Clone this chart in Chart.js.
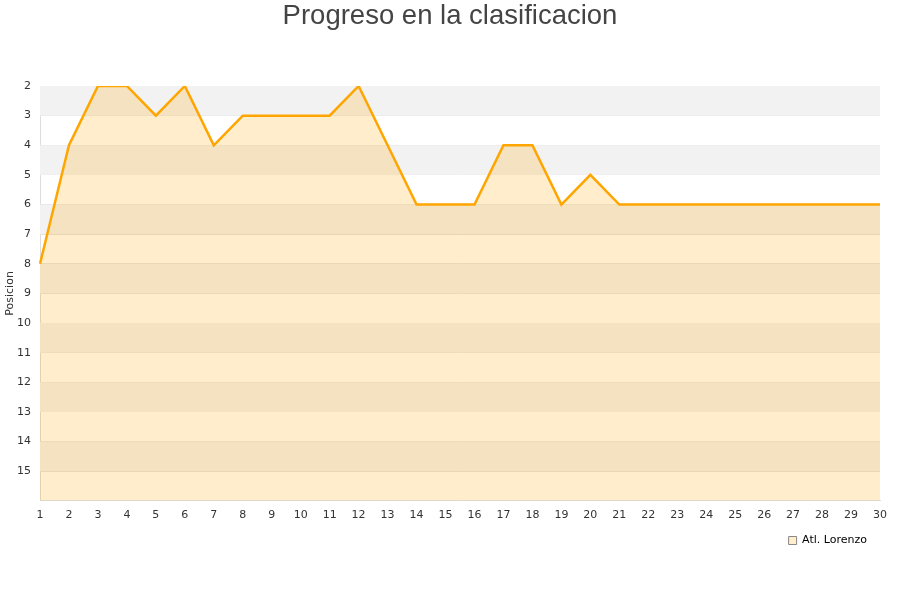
<!DOCTYPE html>
<html>
<head>
<meta charset="utf-8">
<script src="https://cdn.jsdelivr.net/npm/chart.js@4"></script>
<style>
  html, body { margin: 0; padding: 0; background: #fff; }
  #wrap { width: 900px; height: 600px; }
</style>
</head>
<body>
<div id="wrap"><canvas id="chart" width="900" height="600"></canvas></div>
<script>
// chart data
const jornadas = ["1","2","3","4","5","6","7","8","9","10","11","12","13","14","15","16","17","18","19","20","21","22","23","24","25","26","27","28","29","30"];
const posiciones = [8, 4, 2, 2, 3, 2, 4, 3, 3, 3, 3, 2, 4, 6, 6, 6, 4, 4, 6, 5, 6, 6, 6, 6, 6, 6, 6, 6, 6, 6];
const equipo = "Atl. Lorenzo";
const titulo = "Progreso en la clasificacion";
const yMin = 2;
const yMax = 16;

// alternating horizontal bands behind the data
const bandsPlugin = {
  id: "bands",
  beforeDatasetsDraw(chart) {
    const { ctx, chartArea, scales } = chart;
    const y = scales.y;
    ctx.save();
    for (let v = yMin; v < yMax; v++) {
      if ((v - yMin) % 2 !== 0) continue;
      const top = y.getPixelForValue(v);
      const bottom = y.getPixelForValue(v + 1);
      ctx.fillStyle = "#f2f2f2";
      ctx.fillRect(chartArea.left, top, chartArea.right - chartArea.left, bottom - top);
    }
    ctx.restore();
  }
};

// title centred on the whole canvas (built-in title follows layout padding)
const titlePlugin = {
  id: "pageTitle",
  afterDraw(chart) {
    const { ctx } = chart;
    ctx.save();
    ctx.fillStyle = "#444";
    ctx.font = "27.5px 'Liberation Sans', Arial, sans-serif";
    ctx.textAlign = "center";
    ctx.textBaseline = "middle";
    ctx.fillText(titulo, chart.width / 2, 16);
    ctx.restore();
  }
};

new Chart(document.getElementById("chart"), {
  type: "line",
  data: {
    labels: jornadas,
    datasets: [{
      label: equipo,
      data: posiciones,
      borderColor: "#ffa500",
      backgroundColor: "rgba(255,165,0,0.2)",
      borderWidth: 2.5,
      pointRadius: 0,
      tension: 0,
      fill: { value: yMax }
    }]
  },
  options: {
    responsive: false,
    animation: false,
    layout: { padding: { left: 0, right: 20, top: 86, bottom: 44 } },
    plugins: {
      title: { display: false },
      legend: {
        position: "bottom",
        align: "end",
        labels: {
          boxWidth: 8,
          boxHeight: 8,
          padding: 13,
          color: "#222",
          font: { family: "DejaVu Sans, sans-serif", size: 11 },
          generateLabels(chart) {
            return [{
              text: equipo,
              fillStyle: "rgba(255,165,0,0.2)",
              strokeStyle: "#888",
              lineWidth: 1,
              datasetIndex: 0
            }];
          }
        }
      },
      tooltip: { enabled: false }
    },
    scales: {
      x: {
        offset: false,
        grid: { display: false },
        border: { color: "#ddd" },
        ticks: {
          padding: 0,
          color: "#333",
          font: { family: "DejaVu Sans, sans-serif", size: 11 },
          maxRotation: 0,
          autoSkip: false
        }
      },
      y: {
        reverse: true,
        min: yMin,
        max: yMax,
        afterFit(scale) { scale.width = 40; },
        grid: { color: "#e0e0e0", drawTicks: false },
        border: { color: "#ddd" },
        title: {
          display: true,
          text: "Posicion",
          color: "#333",
          font: { family: "DejaVu Sans, sans-serif", size: 11 },
          padding: { top: 4, bottom: 0 }
        },
        ticks: {
          stepSize: 1,
          padding: 9,
          color: "#333",
          font: { family: "DejaVu Sans, sans-serif", size: 11 },
          callback: v => (v === yMax ? "" : v)
        }
      }
    }
  },
  plugins: [bandsPlugin, titlePlugin]
});
</script>
</body>
</html>
